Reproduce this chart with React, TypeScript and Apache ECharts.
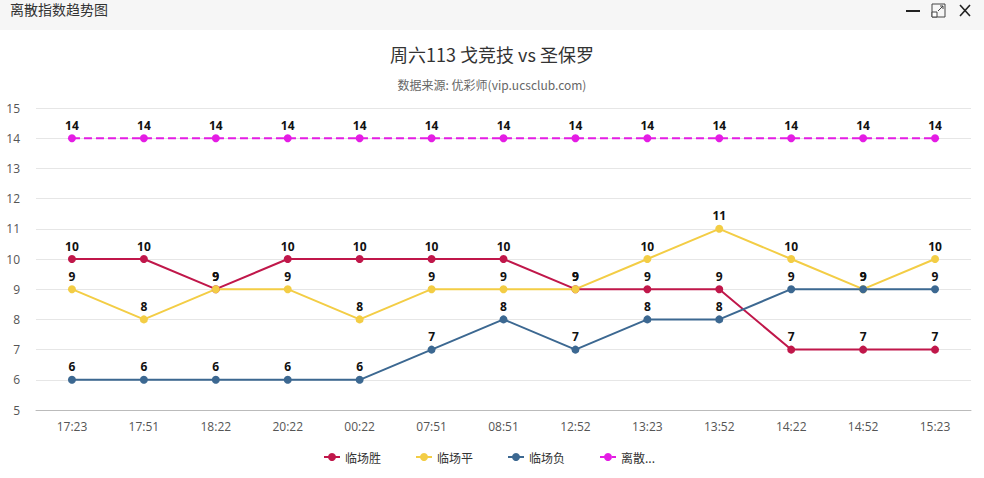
import React, { useEffect, useRef } from "react";
import * as echarts from "echarts";

const categories = ["17:23", "17:51", "18:22", "20:22", "00:22", "07:51", "08:51", "12:52", "13:23", "13:52", "14:22", "14:52", "15:23"];
const winValues = [10, 10, 9, 10, 10, 10, 10, 9, 9, 9, 7, 7, 7];
const drawValues = [9, 8, 9, 9, 8, 9, 9, 9, 10, 11, 10, 9, 10];
const loseValues = [6, 6, 6, 6, 6, 7, 8, 7, 8, 8, 9, 9, 9];
const dispersionValues = [14, 14, 14, 14, 14, 14, 14, 14, 14, 14, 14, 14, 14];
const seriesNames = ["临场胜", "临场平", "临场负", "离散指数"];
const colors = ["#c0174a", "#f3cd45", "#3c6891", "#e41ce4"];

const FONT = "'Noto Sans CJK SC', 'Open Sans', sans-serif";

export default function App() {
  const ref = useRef<HTMLDivElement>(null);
  useEffect(() => {
    document.body.style.margin = "0";
    const chart = echarts.init(ref.current!, null, { renderer: "svg" });
    const label = {
      show: true,
      position: "top" as const,
      color: "#111",
      fontWeight: "bold" as const,
      fontSize: 12,
      fontFamily: "'Open Sans', sans-serif",
      distance: 3,
    };
    const mk = (i: number, data: number[], dashed = false) => ({
      name: seriesNames[i],
      type: "line",
      data,
      symbol: "circle",
      symbolSize: 8,
      color: colors[i],
      lineStyle: { width: 2, type: dashed ? "dashed" : "solid", color: colors[i] },
      itemStyle: { color: colors[i] },
      label,
    });
    chart.setOption({
      animation: false,
      backgroundColor: "#fff",
      textStyle: { fontFamily: FONT },
      title: {
        text: "周六113 戈竞技 vs 圣保罗",
        subtext: "数据来源: 优彩师(vip.ucsclub.com)",
        left: "center",
        top: 40,
        itemGap: 16,
        textStyle: { fontSize: 18, fontWeight: "normal", color: "#333", fontFamily: FONT },
        subtextStyle: { fontSize: 12, color: "#666", fontFamily: FONT },
      },
      legend: {
        data: seriesNames,
        bottom: 10,
        left: 318,
        itemGap: 34,
        itemWidth: 16,
        itemHeight: 10,
        textStyle: { fontSize: 12, color: "#333", fontFamily: FONT },
        formatter: (name: string) => (name === "离散指数" ? "离散..." : name),
      },
      grid: { left: 36, right: 13, top: 108, bottom: 68 },
      xAxis: {
        type: "category",
        data: categories,
        boundaryGap: true,
        axisLine: { lineStyle: { color: "#bbb" } },
        axisTick: { lineStyle: { color: "#bbb" }, length: 6 },
        axisLabel: { color: "#555", fontSize: 12, margin: 10, fontFamily: "'Open Sans', sans-serif" },
      },
      yAxis: {
        type: "value",
        min: 5,
        max: 15,
        interval: 1,
        axisLine: { show: false },
        axisTick: { show: false },
        axisLabel: { color: "#555", fontSize: 12, margin: 16, fontFamily: "'Open Sans', sans-serif" },
        splitLine: { lineStyle: { color: "#e6e6e6" } },
      },
      graphic: [
        { type: "rect", left: 0, top: 0, shape: { width: 984, height: 30 }, style: { fill: "#f6f6f6" }, silent: true },
        { type: "text", left: 10, top: 2, style: { text: "离散指数趋势图", fontSize: 14, fill: "#333", fontFamily: FONT } },
        { type: "line", shape: { x1: 906, y1: 11, x2: 920, y2: 11 }, style: { stroke: "#222", lineWidth: 2 } },
        { type: "rect", shape: { x: 932, y: 4, width: 13, height: 13 }, style: { fill: "none", stroke: "#444", lineWidth: 1 } },
        { type: "rect", shape: { x: 932, y: 12, width: 5, height: 5 }, style: { fill: "#fff", stroke: "#444", lineWidth: 1 } },
        { type: "line", shape: { x1: 938, y1: 11, x2: 943, y2: 6 }, style: { stroke: "#444", lineWidth: 1 } },
        { type: "polyline", shape: { points: [[940, 6], [943, 6], [943, 9]] }, style: { stroke: "#444", fill: "none", lineWidth: 1 } },
        { type: "line", shape: { x1: 960, y1: 5, x2: 970, y2: 16 }, style: { stroke: "#222", lineWidth: 1.6 } },
        { type: "line", shape: { x1: 970, y1: 5, x2: 960, y2: 16 }, style: { stroke: "#222", lineWidth: 1.6 } },
      ],
      series: [
        mk(0, winValues),
        mk(1, drawValues),
        mk(2, loseValues),
        mk(3, dispersionValues, true),
      ],
    });
    return () => chart.dispose();
  }, []);
  return <div ref={ref} style={{ width: 984, height: 478 }} />;
}
